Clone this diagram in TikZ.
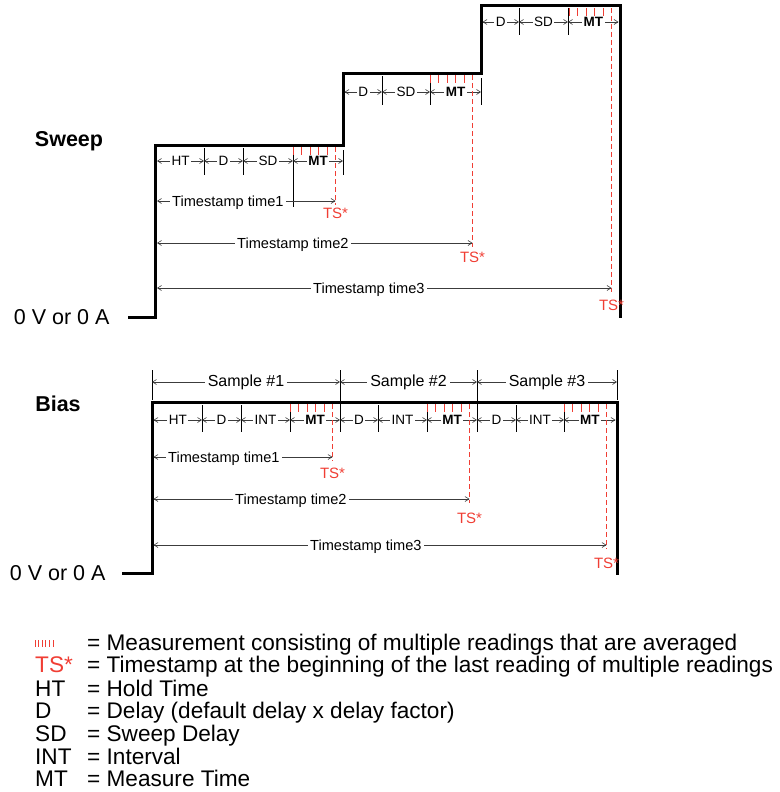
\documentclass[tikz,border=0pt]{standalone}
\usepackage{fontspec}
\setmainfont{Liberation Sans}
\usetikzlibrary{arrows.meta}
\definecolor{tsred}{RGB}{240,62,52}
\definecolor{linegray}{RGB}{60,60,60}

\begin{document}
\begin{tikzpicture}[x=1pt,y=-1pt,>={Straight Barb[length=4pt,width=5pt]},
 wave/.style={line width=3pt,line join=miter},
 dim/.style={<->,draw=linegray,line width=0.6pt},
 seg/.style={fill=white,inner sep=1.5pt,font=\fontsize{13.5}{14}\selectfont},
 samp/.style={fill=white,inner sep=3pt,font=\fontsize{16}{17}\selectfont},
 stamp/.style={anchor=west,fill=white,inner sep=2pt,text depth=0pt,font=\fontsize{14.6}{15}\selectfont},
 divider/.style={line width=0.8pt},
 reading/.style={draw=tsred,line width=0.9pt},
 tsline/.style={draw=tsred,line width=0.9pt,dash pattern=on 5pt off 3pt},
 tslab/.style={text=tsred,font=\fontsize{15}{16}\selectfont},
 title/.style={font=\bfseries\fontsize{21.5}{23}\selectfont},
 level/.style={anchor=east,font=\fontsize{21.5}{23}\selectfont},
 legend/.style={anchor=base west,inner sep=0pt,font=\fontsize{22.6}{24}\selectfont}]
\useasboundingbox (0,0) rectangle (779,792);

% sweep
\node[title] (sweep) at (69,141) {Sweep};
\node[level] (zero1) at (113,317) {0 V or 0 A};
\draw[wave] (128,317) -- (155,317) -- (155,145) -- (343,145) -- (343,73)
 -- (481,73) -- (481,6) -- (620,6) -- (620,318);
\foreach \x/\ya/\yb in {204/148/175, 243/148/175, 293/148/207, 343/150/175,
 382/76/105, 430/76/105, 481/78/105, 519/8/35, 568/8/35}
 \draw[divider] (\x,\ya) -- (\x,\yb);
\foreach \a/\b/\y/\t in {157/204/161/HT, 204/243/161/D, 243/293/161/SD, 293/343/161/\textbf{MT},
 344.5/382/92/D, 382/430/92/SD, 430/481/92/\textbf{MT},
 482.5/519/22/D, 519/568/22/SD, 568/618.5/22/\textbf{MT}}
 \draw[dim] (\a,\y) -- node[seg]{\t} (\b,\y);
\foreach \mx/\my/\ly/\sy/\lx/\n in {293/147/201/213/170/1, 430/75/243/257/235/2, 569/8/288/305/311/3}{
 \foreach \i in {0,...,4}
 \draw[reading] (\mx+8.5*\i,\my) -- ++(0,8);
 \draw[tsline] (\mx+42.5,\my) -- (\mx+42.5,\ly+4);
 \node[tslab] (sts\n) at (\mx+42.5,\sy) {TS*};
 \draw[dim] (157,\ly) -- (\mx+42.5,\ly);
 \node[stamp] (stime\n) at (\lx,\ly) {Timestamp time\n};
}

% bias
\node[title] (bias) at (58,404) {Bias};
\node[level] (zero2) at (109,573) {0 V or 0 A};
\draw[wave] (122,573) -- (152,573) -- (152,402) -- (617,402) -- (617,575);
\foreach \x/\ya/\yb in {152/370/400, 340/370/432, 477/370/432, 617/370/400}
 \draw[divider] (\x,\ya) -- (\x,\yb);
\foreach \a/\b/\n in {152/340/1, 340/477/2, 477/617/3}
 \draw[dim] (\a,382) -- node[samp]{Sample \#\n} (\b,382);
\foreach \x in {202,241,290,378,427,516,564}
 \draw[divider] (\x,405) -- (\x,432);
\foreach \a/\b/\t in {153.5/202/HT, 202/241/D, 241/290/INT, 290/340/\textbf{MT},
 340/378/D, 378/427/INT, 427/477/\textbf{MT}, 477/516/D, 516/564/INT, 564/615.5/\textbf{MT}}
 \draw[dim] (\a,420) -- node[seg]{\t} (\b,420);
\foreach \mx/\ly/\sy/\lx/\n in {290/457/473/166/1, 427/499/518/233/2, 564/545/563/308/3}{
 \foreach \i in {0,...,4}
 \draw[reading] (\mx+8.5*\i,404) -- ++(0,8);
 \draw[tsline] (\mx+42.5,404) -- (\mx+42.5,\ly+4);
 \node[tslab] (bts\n) at (\mx+42.5,\sy) {TS*};
 \draw[dim] (153.5,\ly) -- (\mx+42.5,\ly);
 \node[stamp] (btime\n) at (\lx,\ly) {Timestamp time\n};
}

% legend
\foreach \i in {0,...,5}
 \draw[reading,line width=0.7pt] (35+3.6*\i,640) -- ++(0,7);
\node[legend] (lgmeas) at (87,650) {= Measurement consisting of multiple readings that are averaged};
\node[legend,text=tsred] (lgts) at (35,672) {TS*};
\node[legend] (lgtsdef) at (87,672) {= Timestamp at the beginning of the last reading of multiple readings};
\foreach \t/\d/\yy [count=\k] in {HT/Hold Time/696, D/Delay (default delay x delay factor)/718,
 SD/Sweep Delay/741, INT/Interval/764, MT/Measure Time/786}{
 \node[legend] (key\k) at (35,\yy) {\t};
 \node[legend] (def\k) at (87,\yy) {= \d};
}
\end{tikzpicture}
\end{document}
